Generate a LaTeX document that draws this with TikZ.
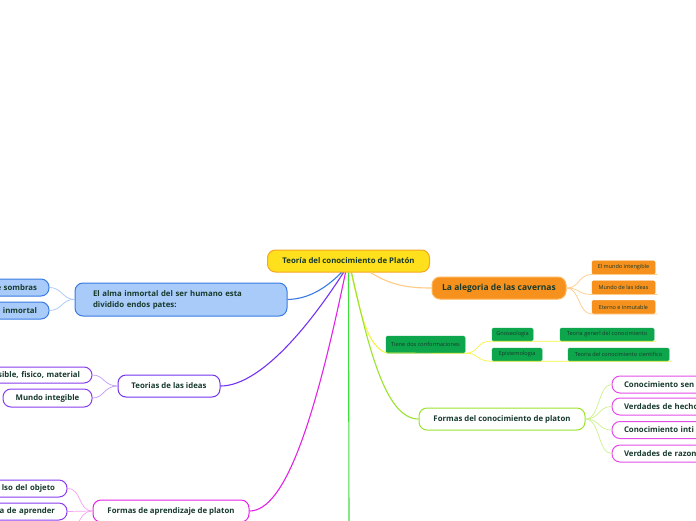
\documentclass[tikz,border=0pt]{standalone}
\usepackage{fontspec}
\setmainfont{Open Sans}
\definecolor{txt}{HTML}{173A2C}
\definecolor{rootfill}{HTML}{FFE01C}
\definecolor{rootdraw}{HTML}{F6A623}
\definecolor{bluefill}{HTML}{A9CBF9}
\definecolor{bluedraw}{HTML}{3A7BE3}
\definecolor{bluelite}{HTML}{A6C6F6}
\definecolor{orfill}{HTML}{F7911E}
\definecolor{ordraw}{HTML}{FFB454}
\definecolor{orlite}{HTML}{FFCB85}
\definecolor{grfill}{HTML}{0DA64C}
\definecolor{yel}{HTML}{F5F542}
\definecolor{lime}{HTML}{9BE42E}
\definecolor{limelite}{HTML}{CDF28E}
\definecolor{grline}{HTML}{3EE03A}
\definecolor{purp}{HTML}{7334F2}
\definecolor{purplite}{HTML}{C29BF7}
\definecolor{mag}{HTML}{E523E5}
\definecolor{maglite}{HTML}{F4A3EF}
\definecolor{magdraw}{HTML}{E54DE8}
\definecolor{vio}{HTML}{8A3CF0}
\tikzset{
  base/.style={draw, line width=1pt, text=txt, font=\bfseries\fontsize{7.8}{9}\selectfont, inner sep=0pt, align=center},
  rootbox/.style={base, fill=rootfill, draw=rootdraw, rounded corners=8pt, minimum width=162pt, minimum height=22pt},
  bluebox/.style={base, fill=bluefill, draw=bluedraw, rounded corners=8pt},
  orbox/.style={base, fill=orfill, draw=ordraw, rounded corners=8pt, font=\bfseries\fontsize{8.5}{10}\selectfont},
  orsmall/.style={base, fill=orfill, draw=orfill, rounded corners=1.5pt, font=\fontsize{5.5}{6}\selectfont, line width=0.5pt, minimum width=63pt, minimum height=13.5pt},
  grbox/.style={base, fill=grfill, draw=grfill, rounded corners=1.5pt, font=\fontsize{5.6}{6}\selectfont, line width=0.5pt, minimum height=13pt},
  whitebox/.style={base, fill=white, rounded corners=8pt},
  conn/.style={line width=1.1pt},
  sub/.style={line width=0.7pt},
}
\begin{document}
\begin{tikzpicture}[x=1pt,y=-1pt]
\useasboundingbox (0,0) rectangle (696,520);
\clip (0,0) rectangle (696,520);
\fill[white] (0,0) rectangle (696,520);

% off-page connector ends
\coordinate (gbottom) at (349,525);
\coordinate (pbottom) at (78,525);

\coordinate (rootY) at (351,272);
\coordinate (tieneL) at (386,353);

% yellow connector to "Tiene" (under the lime line)
\draw[conn, draw=yel] (rootY) .. controls (362,320) and (368,345) .. (tieneL);

\node[rootbox] (root) at (348.5,261) {Teoría del conocimiento de Platón};

% ---------- nodes ----------
\node[bluebox, minimum width=212pt, minimum height=33pt, text width=176pt, align=left,
      font=\bfseries\fontsize{7.8}{11}\selectfont] (alma) at (181,299.5)
      {El alma inmortal del ser humano esta\\dividido endos pates:};
\node[bluebox, minimum width=89pt, minimum height=17pt, text width=65pt, align=right] (b1) at (4.5,287.5) {e sombras};
\node[bluebox, minimum width=89pt, minimum height=17pt, text width=65pt, align=right] (b2) at (4.5,310.5) {inmortal};

\node[orbox, minimum width=134pt, minimum height=22pt] (cav) at (499,288) {La alegoria de las cavernas};
\node[orsmall] (o1) at (623.5,267.5) {El mundo intengible};
\node[orsmall] (o2) at (623.5,287.5) {Mundo de las ideas};
\node[orsmall] (o3) at (623.5,307) {Eterno e inmutable};

\node[grbox, minimum width=79pt, minimum height=17pt] (tiene) at (425.5,344.5) {Tiene dos conformaciones};
\node[grbox, minimum width=41pt] (gno) at (512.5,334.5) {Gnoseologia};
\node[grbox, minimum width=94pt] (tg) at (607,334.5) {Teoria generl del conocimiento};
\node[grbox, minimum width=50pt] (epi) at (517,354.5) {Epistemologia};
\node[grbox, minimum width=101pt] (tc) at (618.5,354.5) {Teoria del conocimiento cientifico};

\node[whitebox, draw=lime, minimum width=166pt, minimum height=22pt] (fc) at (502,419) {Formas del conocimiento de platon};
\node[whitebox, draw=magdraw, minimum width=110pt, minimum height=17pt, text width=86pt, align=left] (p1) at (667,384.5) {Conocimiento sen};
\node[whitebox, draw=magdraw, minimum width=110pt, minimum height=17pt, text width=86pt, align=left] (p2) at (667,406.5) {Verdades de hecho};
\node[whitebox, draw=magdraw, minimum width=110pt, minimum height=17pt, text width=86pt, align=left] (p3) at (667,430) {Conocimiento inti};
\node[whitebox, draw=magdraw, minimum width=110pt, minimum height=17pt, text width=86pt, align=left] (p4) at (667,453.5) {Verdades de razon};

\node[whitebox, draw=purp, minimum width=102pt, minimum height=22pt] (ti) at (169,386) {Teorias de las ideas};
\node[whitebox, draw=vio, minimum width=132pt, minimum height=16pt, text width=108pt, align=right] (t1) at (26,375) {sible, fisico, material};
\node[whitebox, draw=vio, minimum width=89pt, minimum height=18pt] (t2) at (47.5,398) {Mundo integible};

\node[whitebox, draw=mag, minimum width=156pt, minimum height=22pt] (fa) at (171,511) {Formas de aprendizaje de platon};
\node[whitebox, draw=vio, minimum width=107pt, minimum height=17pt, text width=83pt, align=right] (a1) at (13.5,488.5) {lso del objeto};
\node[whitebox, draw=vio, minimum width=107pt, minimum height=17pt, text width=83pt, align=right] (a2) at (13.5,511.5) {a de aprender};

% ---------- main connectors ----------
\draw[conn, draw=bluedraw] ([xshift=-7pt]root.south) .. controls (322,292) and (305,299) .. (alma.east);
\draw[conn, draw=purp] ([xshift=-5pt]root.south) .. controls (300,340) and (255,386) .. (ti.east);
\draw[conn, draw=mag] ([xshift=-3pt]root.south) .. controls (315,420) and (285,511) .. (fa.east);
\draw[conn, draw=grline] (root.south) -- (gbottom);
\draw[conn, draw=lime] ([xshift=3pt]root.south) .. controls (368,345) and (385,419) .. (fc.west);
\draw[conn, draw=orlite] ([xshift=22pt]root.south) .. controls (392,286) and (410,288) .. (cav.west);

% ---------- sub connectors ----------
\draw[sub, draw=bluelite] (alma.west) .. controls (62,299) and (62,287.5) .. (b1.east);
\draw[sub, draw=bluelite] (alma.west) .. controls (62,299) and (62,310.5) .. (b2.east);

\draw[sub, draw=orlite] (cav.east) .. controls (580,288) and (578,274.5) .. (o1.south west) -- ([xshift=2pt]o1.south east);
\draw[sub, draw=orlite] (cav.east) .. controls (580,288) and (578,294.5) .. (o2.south west) -- ([xshift=2pt]o2.south east);
\draw[sub, draw=orlite] (cav.east) .. controls (580,288) and (578,314) .. (o3.south west) -- ([xshift=2pt]o3.south east);

\draw[sub, draw=yel] (tieneL) -- (tiene.south east);
\draw[sub, draw=yel] (tiene.south east) .. controls (480,353) and (475,341) .. (gno.south west) -- (gno.south east) -- (tg.south west) -- ([xshift=2pt]tg.south east);
\draw[sub, draw=yel] (tiene.south east) .. controls (480,353) and (475,361) .. (epi.south west) -- (epi.south east) -- (tc.south west) -- ([xshift=2pt]tc.south east);

\draw[sub, draw=limelite] (fc.east) .. controls (600,419) and (598,384.5) .. (p1.west);
\draw[sub, draw=limelite] (fc.east) .. controls (600,419) and (598,406.5) .. (p2.west);
\draw[sub, draw=limelite] (fc.east) .. controls (600,419) and (598,430) .. (p3.west);
\draw[sub, draw=limelite] (fc.east) .. controls (600,419) and (598,453.5) .. (p4.west);

\draw[sub, draw=purplite] (ti.west) .. controls (104,386) and (104,375) .. (t1.east);
\draw[sub, draw=purplite] (ti.west) .. controls (104,386) and (104,398) .. (t2.east);

\draw[sub, draw=maglite] (fa.west) .. controls (78,511) and (82,488.5) .. (a1.east);
\draw[sub, draw=maglite] (fa.west) .. controls (80,511) and (80,511.5) .. (a2.east);
\draw[sub, draw=maglite] (fa.west) .. controls (84,511) and (80,518) .. (pbottom);
\end{tikzpicture}
\end{document}
